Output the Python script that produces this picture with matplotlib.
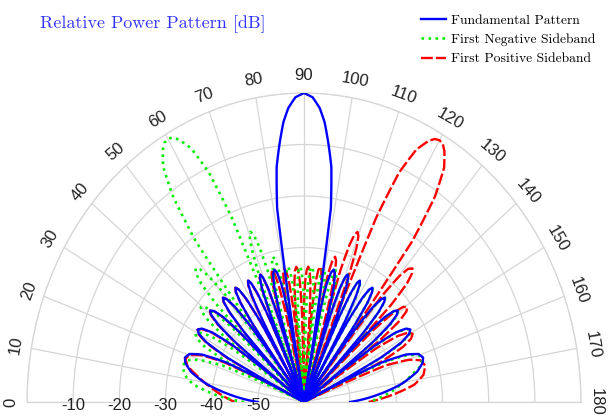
import numpy as np
import matplotlib.pyplot as plt
import matplotlib.transforms as mtransforms

# angles in degrees (0 on the left, 180 on the right), levels in dB
# one row per lobe
fund_theta = [0, 5, 9.5, 13.5, 16.5, 18.5, 20.6, 22.6, 24.5, 26.0,
              27.4, 28.7, 30.1, 31.45, 32.8, 34.2, 35.5, 36.9,
              37.96, 39.0, 40.1, 41.15, 42.2, 43.3, 44.3, 45.4,
              46.3, 47.25, 48.2, 49.1, 50.0, 50.95, 51.9, 52.8,
              53.7, 54.5, 55.4, 56.25, 57.1, 58.0, 58.8, 59.7,
              60.5, 61.3, 62.1, 62.85, 63.6, 64.4, 65.2, 66.0,
              66.8, 67.5, 68.3, 69.05, 69.8, 70.6, 71.3, 72.1,
              73.06, 74.0, 75.0, 75.95, 76.9, 77.9, 78.8, 79.8,
              81.2, 82.6, 84.0, 85.3, 86.6, 88.2, 90.0, 91.8, 93.4, 94.7, 96.0, 97.4, 98.8, 100.2,
              101.2, 102.1, 103.1, 104.05, 105.0, 106.0, 106.94, 107.9,
              108.7, 109.4, 110.2, 110.95, 111.7, 112.5, 113.2, 114.0,
              114.8, 115.6, 116.4, 117.15, 117.9, 118.7, 119.5, 120.3,
              121.2, 122.0, 122.9, 123.75, 124.6, 125.5, 126.3, 127.2,
              128.1, 129.05, 130.0, 130.9, 131.8, 132.75, 133.7, 134.6,
              135.7, 136.7, 137.8, 138.85, 139.9, 141.0, 142.04, 143.1,
              144.5, 145.8, 147.2, 148.55, 149.9, 151.3, 152.6, 154.0,
              155.5, 157.4, 159.4, 161.5, 163.5, 166.5, 170.5, 175, 180]
fund_db = [-50, -44, -38.5, -34.8, -33.2, -32.8, -33.5, -36, -41.5, -60,
           -41.3, -36, -33.7, -33, -33.7, -36, -41.3, -60,
           -41.3, -36, -33.7, -33, -33.7, -36, -41.3, -60,
           -41.5, -36.2, -33.9, -33.2, -33.9, -36.2, -41.5, -60,
           -41.6, -36.3, -34, -33.3, -34, -36.3, -41.6, -60,
           -41.8, -36.5, -34.2, -33.5, -34.2, -36.5, -41.8, -60,
           -41.8, -36.5, -34.2, -33.5, -34.2, -36.5, -41.8, -60,
           -41.8, -36.5, -34.2, -33.5, -34.2, -36.5, -41.8, -60,
           -22, -14, -9.5, -5.5, -2.8, -0.8, 0, -0.8, -2.8, -5.5, -9.5, -14, -22, -60,
           -41.8, -36.5, -34.2, -33.5, -34.2, -36.5, -41.8, -60,
           -41.8, -36.5, -34.2, -33.5, -34.2, -36.5, -41.8, -60,
           -41.8, -36.5, -34.2, -33.5, -34.2, -36.5, -41.8, -60,
           -41.6, -36.3, -34, -33.3, -34, -36.3, -41.6, -60,
           -41.5, -36.2, -33.9, -33.2, -33.9, -36.2, -41.5, -60,
           -41.3, -36, -33.7, -33, -33.7, -36, -41.3, -60,
           -41.3, -36, -33.7, -33, -33.7, -36, -41.3, -60,
           -41.5, -36, -33.5, -32.8, -33.2, -34.8, -38.5, -44, -50]

neg_theta = [0, 4, 8.1, 11.5, 15.1, 17.8, 19.8, 21.9, 23.7,
             25.1, 26.55, 28.0, 29.4, 30.8, 32.25, 33.7, 35.1,
             36.2, 37.3, 38.4, 39.55, 40.7, 41.8, 42.9, 44.0,
             45.0, 45.9, 46.9, 47.85, 48.8, 49.8, 50.7, 51.7,
             53.1, 54.6, 56.3, 58.0, 59.0, 60.0, 61.0, 62.0, 63.6, 65.2, 66.4, 67.7,
             68.44, 69.2, 69.9, 70.65, 71.4, 72.1, 72.86, 73.6,
             74.34, 75.1, 75.8, 76.55, 77.3, 78.0, 78.76, 79.5,
             80.2, 80.9, 81.6, 82.35, 83.1, 83.8, 84.5, 85.2,
             85.9, 86.6, 87.3, 88.0, 88.7, 89.4, 90.1, 90.8,
             91.5, 92.2, 92.9, 93.65, 94.4, 95.1, 95.8, 96.5,
             97.2, 97.9, 98.6, 99.35, 100.1, 100.8, 101.5, 102.2,
             102.9, 103.65, 104.4, 105.1, 105.8, 106.55, 107.3, 108.0,
             108.8, 109.5, 110.3, 111.05, 111.8, 112.6, 113.3, 114.1,
             114.9, 115.7, 116.5, 117.25, 118.0, 118.8, 119.6, 120.4,
             121.25, 122.1, 122.95, 123.8, 124.65, 125.5, 126.35, 127.2,
             128.1, 129.1, 130.0, 130.95, 131.9, 132.8, 133.8, 134.7,
             135.8, 136.85, 137.9, 139.0, 140.1, 141.15, 142.2, 143.3,
             144.7, 146.0, 147.4, 148.75, 150.1, 151.5, 152.8, 154.2,
             156, 157.8, 159.8, 161.9, 164.5, 167.2, 170.5, 174, 180]
neg_db = [-47, -41, -35.8, -33.6, -32.8, -33.5, -35.8, -41, -60,
          -41.3, -36, -33.7, -33, -33.7, -36, -41.3, -60,
          -39.3, -34, -31.7, -31, -31.7, -34, -39.3, -60,
          -33.3, -28, -25.7, -25, -25.7, -28, -33.3, -60,
          -21, -11, -5, -2.3, -1.3, -1, -1.3, -2.3, -5, -11, -21, -60,
          -33.3, -28, -25.7, -25, -25.7, -28, -33.3, -60,
          -39.3, -34, -31.7, -31, -31.7, -34, -39.3, -60,
          -41.8, -36.5, -34.2, -33.5, -34.2, -36.5, -41.8, -60,
          -42, -36.7, -34.4, -33.7, -34.4, -36.7, -42, -60,
          -42, -36.7, -34.4, -33.7, -34.4, -36.7, -42, -60,
          -42, -36.7, -34.4, -33.7, -34.4, -36.7, -42, -60,
          -41.8, -36.5, -34.2, -33.5, -34.2, -36.5, -41.8, -60,
          -41.8, -36.5, -34.2, -33.5, -34.2, -36.5, -41.8, -60,
          -41.8, -36.5, -34.2, -33.5, -34.2, -36.5, -41.8, -60,
          -41.6, -36.3, -34, -33.3, -34, -36.3, -41.6, -60,
          -41.5, -36.2, -33.9, -33.2, -33.9, -36.2, -41.5, -60,
          -41.3, -36, -33.7, -33, -33.7, -36, -41.3, -60,
          -41.3, -36, -33.7, -33, -33.7, -36, -41.3, -60,
          -41, -36, -33.6, -33, -33.8, -36, -38.5, -41, -46]

pos_theta = [0, 6, 9.5, 12.8, 15.5, 18.1, 20.2, 22.2, 24, 25.8,
             27.2, 28.5, 29.9, 31.25, 32.6, 34.0, 35.3, 36.7,
             37.8, 38.85, 39.9, 41.0, 42.1, 43.15, 44.2, 45.3,
             46.2, 47.2, 48.1, 49.05, 50.0, 50.9, 51.9, 52.8,
             53.65, 54.5, 55.35, 56.2, 57.05, 57.9, 58.75, 59.6,
             60.4, 61.2, 62.0, 62.75, 63.5, 64.3, 65.1, 65.9,
             66.7, 67.4, 68.2, 68.95, 69.7, 70.5, 71.2, 72.0,
             72.7, 73.45, 74.2, 74.9, 75.6, 76.35, 77.1, 77.8,
             78.5, 79.2, 79.9, 80.65, 81.4, 82.1, 82.8, 83.5,
             84.2, 84.9, 85.6, 86.35, 87.1, 87.8, 88.5, 89.2,
             89.9, 90.6, 91.3, 92.0, 92.7, 93.4, 94.1, 94.8,
             95.5, 96.2, 96.9, 97.65, 98.4, 99.1, 99.8, 100.5,
             101.24, 102.0, 102.7, 103.45, 104.2, 104.9, 105.66, 106.4,
             107.14, 107.9, 108.6, 109.35, 110.1, 110.8, 111.56, 112.3,
             113.6, 114.8, 116.4, 118.0, 119.0, 120.0, 121.0, 122.0, 123.7, 125.4, 126.9, 128.3,
             129.3, 130.2, 131.1, 132.15, 133.1, 134.1, 135.0, 136.0,
             137.1, 138.2, 139.3, 140.45, 141.6, 142.7, 143.8, 144.9,
             146.3, 147.75, 149.2, 150.6, 152.0, 153.45, 154.9, 156.3,
             158.1, 160.2, 162.2, 164.9, 168.5, 171.9, 176, 180]
pos_db = [-45, -41, -38.5, -36, -33.8, -33, -33.6, -36, -41, -60,
          -41.3, -36, -33.7, -33, -33.7, -36, -41.3, -60,
          -41.3, -36, -33.7, -33, -33.7, -36, -41.3, -60,
          -41.5, -36.2, -33.9, -33.2, -33.9, -36.2, -41.5, -60,
          -41.6, -36.3, -34, -33.3, -34, -36.3, -41.6, -60,
          -41.8, -36.5, -34.2, -33.5, -34.2, -36.5, -41.8, -60,
          -41.8, -36.5, -34.2, -33.5, -34.2, -36.5, -41.8, -60,
          -41.8, -36.5, -34.2, -33.5, -34.2, -36.5, -41.8, -60,
          -42, -36.7, -34.4, -33.7, -34.4, -36.7, -42, -60,
          -42, -36.7, -34.4, -33.7, -34.4, -36.7, -42, -60,
          -42, -36.7, -34.4, -33.7, -34.4, -36.7, -42, -60,
          -41.8, -36.5, -34.2, -33.5, -34.2, -36.5, -41.8, -60,
          -39.3, -34, -31.7, -31, -31.7, -34, -39.3, -60,
          -33.3, -28, -25.7, -25, -25.7, -28, -33.3, -60,
          -21, -11, -5.3, -2.6, -1.6, -1.3, -1.6, -2.6, -5.3, -11, -21, -60,
          -33.3, -28, -25.7, -25, -25.7, -28, -33.3, -60,
          -39.3, -34, -31.7, -31, -31.7, -34, -39.3, -60,
          -41.3, -36, -33.7, -33, -33.7, -36, -41.3, -60,
          -41, -35.8, -33.5, -32.8, -33.6, -35.8, -41, -46]

theta_ticks = list(range(0, 181, 10))
r_ticks = [-10, -20, -30, -40, -50]

# long lines would otherwise be thinned out in (angle, dB) space
plt.rcParams['path.simplify'] = False

fig = plt.figure(figsize=(6.11, 4.2), dpi=100)
# the source picture is stretched vertically, so the half circle is an ellipse
ax = fig.add_axes([27 / 611, -136.5 / 420, 554 / 611, 618 / 420], projection='polar')
ax.set_aspect('auto')
ax.set_theta_zero_location('W')
ax.set_theta_direction(-1)
ax.set_thetamin(0)
ax.set_thetamax(180)
ax.set_rlim(-60, 0)

ax.set_xticks(np.deg2rad(theta_ticks))
ax.set_xticklabels([])
ax.set_yticks([-50, -40, -30, -20, -10, 0])
ax.set_yticklabels([])
ax.grid(True, color='#d6d6d6', linewidth=0.9)
for s in ax.spines.values():
    s.set_color('#d6d6d6')
    s.set_linewidth(0.9)

l_pos, = ax.plot(np.deg2rad(pos_theta), pos_db, color='red', ls=(0, (5, 1.3)),
                 lw=1.7, zorder=3)
l_neg, = ax.plot(np.deg2rad(neg_theta), neg_db, color='#00ee00', ls=':',
                 lw=1.9, zorder=4)
l_fund, = ax.plot(np.deg2rad(fund_theta), fund_db, color='blue', lw=1.7, zorder=5)
# let the polar projection bend the segments like it does for grid lines
for ln in (l_pos, l_neg, l_fund):
    ln.get_path()._interpolation_steps = 12

# angle labels, turned along the rim
for t in theta_ticks:
    ax.text(np.deg2rad(t), 3.4, str(t), rotation=90 - t, ha='center', va='center',
            rotation_mode='anchor', fontsize=12, family='Liberation Sans',
            color='#222222')

# dB labels along the 0 degree line
below = mtransforms.offset_copy(ax.transData, fig=fig, x=0, y=-4, units='dots')
for r in r_ticks:
    ax.text(0, r, str(r), transform=below, ha='center', va='center',
            fontsize=12, family='Liberation Sans', color='#222222')

fig.text(40 / 611, 1 - 28 / 420, 'Relative Power Pattern [dB]', family='cmr10',
         fontsize=13, color=(0.2, 0.2, 1.0), va='baseline', ha='left')

fig.legend([l_fund, l_neg, l_pos],
           ['Fundamental Pattern', 'First Negative Sideband', 'First Positive Sideband'],
           loc='upper left', bbox_to_anchor=(421 / 611, 1 - 14 / 420), frameon=False,
           prop={'family': 'cmr10', 'size': 9.8}, handlelength=1.85,
           handletextpad=0.35, labelspacing=0.5, borderpad=0, borderaxespad=0)

fig.savefig('out.png', dpi=100)
